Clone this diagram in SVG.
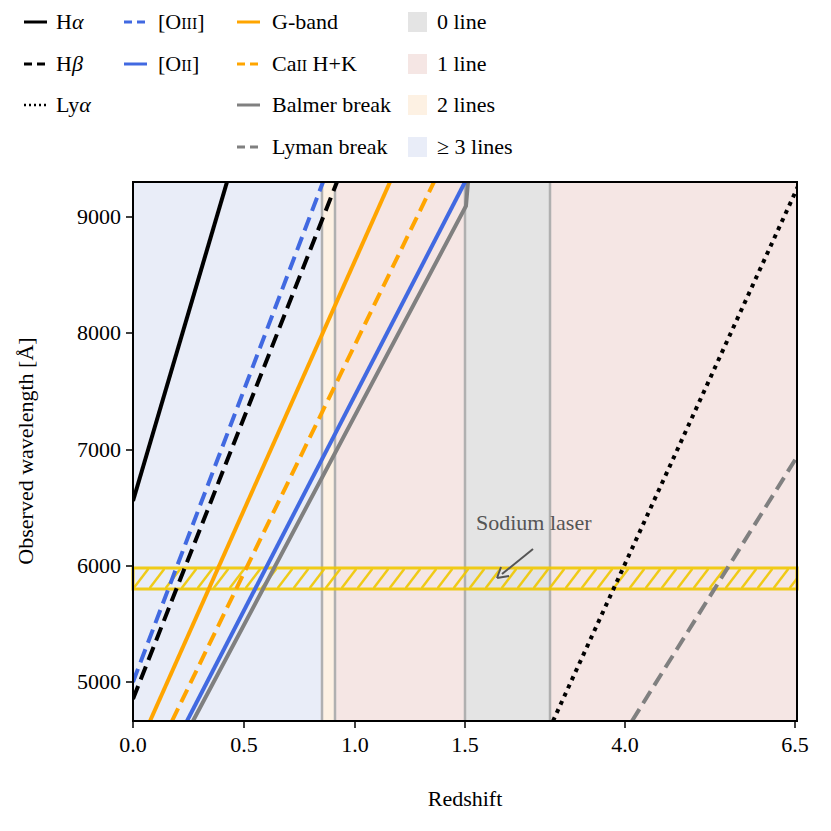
<svg xmlns="http://www.w3.org/2000/svg" width="831" height="831" viewBox="0 0 831 831">
<style>
text{font-family:"Liberation Serif","Times New Roman",Tinos,"Nimbus Roman","DejaVu Serif",serif;font-size:22px;fill:#000}
.l{fill:none;stroke-width:4}
.vb{stroke:#b0b0b0;stroke-width:2.5}
.tk{stroke:#000;stroke-width:1.5}
</style>
<defs>
<pattern id="h" width="16" height="21" patternUnits="userSpaceOnUse" x="133" y="568">
<line x1="0" y1="21" x2="16" y2="0" stroke="#f0c800" stroke-width="2.5"/>
</pattern>
<clipPath id="c"><rect x="133" y="182" width="664" height="539"/></clipPath>
</defs>
<rect width="831" height="831" fill="#fff"/>
<g id="legend">
<line x1="24" y1="22" x2="47" y2="22" stroke="#000" stroke-width="3"/><text x="56" y="29">H<tspan font-style="italic">α</tspan></text>
<line x1="24" y1="64" x2="47" y2="64" stroke="#000" stroke-width="3" stroke-dasharray="8,5"/><text x="56" y="71">H<tspan font-style="italic">β</tspan></text>
<line x1="24" y1="105" x2="47" y2="105" stroke="#000" stroke-width="2.5" stroke-dasharray="2,3"/><text x="56" y="112">Ly<tspan font-style="italic">α</tspan></text>
<line x1="124" y1="22" x2="147" y2="22" stroke="#4169e1" stroke-width="3" stroke-dasharray="8,5"/><text x="158" y="29">[O<tspan font-size="16">III</tspan>]</text>
<line x1="124" y1="64" x2="147" y2="64" stroke="#4169e1" stroke-width="3"/><text x="158" y="71">[O<tspan font-size="16">II</tspan>]</text>
<line x1="237" y1="22" x2="260" y2="22" stroke="#ffa500" stroke-width="3"/><text x="272" y="29">G-band</text>
<line x1="237" y1="64" x2="260" y2="64" stroke="#ffa500" stroke-width="3" stroke-dasharray="8,5"/><text x="272" y="71">Ca<tspan font-size="16">II</tspan> H+K</text>
<line x1="237" y1="105" x2="260" y2="105" stroke="#808080" stroke-width="3"/><text x="272" y="112">Balmer break</text>
<line x1="237" y1="147" x2="260" y2="147" stroke="#808080" stroke-width="3" stroke-dasharray="8,5"/><text x="272" y="154">Lyman break</text>
<rect x="408" y="12" width="19" height="20" fill="#e4e4e4"/><text x="437" y="29">0 line</text>
<rect x="408" y="54" width="19" height="20" fill="#f5e6e4"/><text x="437" y="71">1 line</text>
<rect x="408" y="95" width="19" height="20" fill="#fdf1e3"/><text x="437" y="112">2 lines</text>
<rect x="408" y="137" width="19" height="20" fill="#e9edf8"/><text x="437" y="154">≥ 3 lines</text>
</g>
<g id="regions">
<rect x="133" y="182" width="189" height="539" fill="#e9edf8"/>
<rect x="322" y="182" width="13" height="539" fill="#fdf1e3"/>
<rect x="335" y="182" width="130" height="539" fill="#f5e6e4"/>
<rect x="465" y="182" width="85" height="539" fill="#e4e4e4"/>
<rect x="550" y="182" width="247" height="539" fill="#f5e6e4"/>
<line class="vb" x1="322" y1="182" x2="322" y2="721"/>
<line class="vb" x1="335" y1="182" x2="335" y2="721"/>
<line class="vb" x1="465" y1="182" x2="465" y2="721"/>
<line class="vb" x1="550" y1="182" x2="550" y2="721"/>
</g>
<g id="sodium">
<rect x="133" y="568" width="664" height="21" fill="url(#h)" stroke="#f0c800" stroke-width="3" opacity="0.9"/>
</g>
<g id="connectors" clip-path="url(#c)">
<line class="l" x1="133" y1="501" x2="227" y2="182" stroke="#000"/>
<line class="l" x1="133" y1="682" x2="323" y2="182" stroke="#4169e1" stroke-dasharray="14,7"/>
<line class="l" x1="133" y1="699" x2="337" y2="182" stroke="#000" stroke-dasharray="14,7"/>
<line class="l" x1="150" y1="721" x2="390" y2="182" stroke="#ffa500"/>
<line class="l" x1="172" y1="721" x2="434" y2="182" stroke="#ffa500" stroke-dasharray="14,7"/>
<path class="l" d="M193 721 L466 206 L468 182" stroke="#808080"/>
<line class="l" x1="187" y1="721" x2="465" y2="182" stroke="#4169e1"/>
<line class="l" x1="553" y1="721" x2="800" y2="182" stroke="#000" stroke-dasharray="4,5"/>
<line class="l" x1="632" y1="721" x2="800" y2="452" stroke="#808080" stroke-dasharray="14,7"/>
</g>
<g id="annotation">
<text x="476" y="530" style="fill:#555">Sodium laser</text>
<line x1="533" y1="549" x2="502" y2="574" stroke="#555" stroke-width="2"/>
<path d="M497 578 L501 567 M497 578 L509 576" stroke="#555" stroke-width="2" fill="none"/>
</g>
<g id="axes">
<rect x="133" y="182" width="664" height="539" fill="none" stroke="#000" stroke-width="2"/>
<g class="tk">
<line x1="133" y1="721" x2="133" y2="728"/><line x1="244" y1="721" x2="244" y2="728"/><line x1="355" y1="721" x2="355" y2="728"/><line x1="465" y1="721" x2="465" y2="728"/><line x1="625" y1="721" x2="625" y2="728"/><line x1="795" y1="721" x2="795" y2="728"/>
<line x1="126" y1="217" x2="133" y2="217"/><line x1="126" y1="333" x2="133" y2="333"/><line x1="126" y1="450" x2="133" y2="450"/><line x1="126" y1="566" x2="133" y2="566"/><line x1="126" y1="682" x2="133" y2="682"/>
</g>
<g text-anchor="middle">
<text x="133" y="752">0.0</text><text x="244" y="752">0.5</text><text x="355" y="752">1.0</text><text x="465" y="752">1.5</text><text x="625" y="752">4.0</text><text x="795" y="752">6.5</text>
<text x="465" y="806">Redshift</text>
<text transform="translate(33,451) rotate(-90)">Observed wavelength [Å]</text>
</g>
<g text-anchor="end">
<text x="121" y="224">9000</text><text x="121" y="340">8000</text><text x="121" y="457">7000</text><text x="121" y="573">6000</text><text x="121" y="689">5000</text>
</g>
</g>
</svg>
